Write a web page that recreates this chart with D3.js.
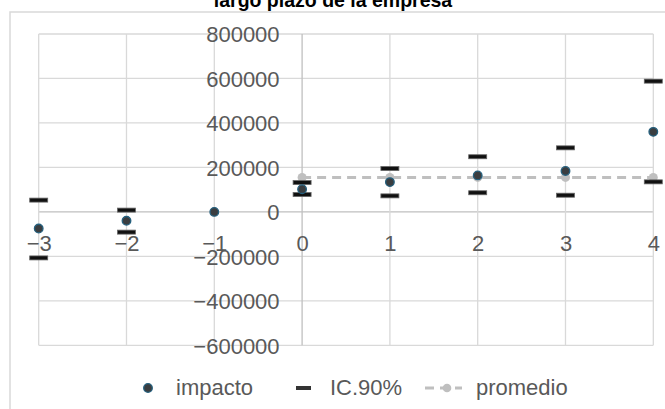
<!DOCTYPE html>
<html>
<head>
<meta charset="utf-8">
<script src="https://cdn.jsdelivr.net/npm/d3@7"></script>
<style>
  html, body { margin: 0; padding: 0; background: #fff; }
  svg { display: block; }
</style>
</head>
<body>
<svg id="chart" width="665" height="409"></svg>
<script>
// Event-study style data: relative period vs. estimated impact
const periods   = [-3, -2, -1, 0, 1, 2, 3, 4];
const impacto   = [-75000, -40000, 0, 102000, 134000, 164000, 184000, 360000];
const ciUpper   = [53000, 8000, null, 132000, 195000, 248000, 288000, 588000];
const ciLower   = [-207000, -91000, null, 78000, 72000, 86000, 75000, 135000];
const promedio  = [null, null, null, 155000, 155000, 155000, 155000, 155000];
const yTicks    = [-600000, -400000, -200000, 0, 200000, 400000, 600000, 800000];
const titleText = "largo plazo de la empresa";
const legendLabels = ["impacto", "IC.90%", "promedio"];

const svg = d3.select("#chart");
const font = "'Liberation Sans', Arial, sans-serif";
const textCol = "#595959";
const gridCol = "#d9d9d9";
const axisCol = "#bfbfbf";

const plot = { left: 38.7, right: 653.3, top: 34, bottom: 345.3 };

const x = d3.scaleLinear().domain([-3, 4]).range([plot.left, plot.right]);
const y = d3.scaleLinear().domain([-600000, 800000]).range([plot.bottom, plot.top]);

// Chart area border (left and top edges visible)
svg.append("path")
  .attr("d", "M10,409 L10,12 L665,12")
  .attr("fill", "none").attr("stroke", gridCol).attr("stroke-width", 1.5);

// Title (second line of a wrapped title)
svg.append("text")
  .attr("x", 333).attr("y", 7)
  .attr("text-anchor", "middle")
  .attr("font-family", font).attr("font-weight", "bold")
  .attr("font-size", 19.5).attr("fill", "#000")
  .text(titleText);

// Gridlines
const g = svg.append("g");
g.selectAll("line.hgrid").data(yTicks).join("line")
  .attr("class", "hgrid")
  .attr("x1", plot.left).attr("x2", plot.right)
  .attr("y1", d => y(d)).attr("y2", d => y(d))
  .attr("stroke", d => d === 0 ? axisCol : gridCol).attr("stroke-width", 1.3);
g.selectAll("line.vgrid").data(periods).join("line")
  .attr("class", "vgrid")
  .attr("x1", d => x(d)).attr("x2", d => x(d))
  .attr("y1", plot.top).attr("y2", plot.bottom)
  .attr("stroke", d => d === 0 ? axisCol : gridCol).attr("stroke-width", 1.3);

// Y axis labels (axis crosses at period 0)
const yAxis = d3.axisLeft(y).tickValues(yTicks).tickSize(0).tickPadding(0)
  .tickFormat(d3.format("d"));
const yg = svg.append("g").attr("transform", `translate(${x(0) - 22.5},0)`).call(yAxis);
yg.select(".domain").remove();
yg.selectAll("text")
  .attr("font-family", font).attr("font-size", 22).attr("fill", textCol)
  .attr("dy", "0.35em");

// X axis labels (along the zero line)
const xAxis = d3.axisBottom(x).tickValues(periods).tickSize(0).tickPadding(0)
  .tickFormat(d3.format("d"));
const xg = svg.append("g").attr("transform", `translate(0,${y(0)})`).call(xAxis);
xg.select(".domain").remove();
xg.selectAll("text")
  .attr("font-family", font).attr("font-size", 22).attr("fill", textCol)
  .attr("dy", null).attr("y", 39);

// promedio: dashed line with markers
const promData = periods.map((p, i) => ({ p, v: promedio[i] })).filter(d => d.v !== null);
svg.append("path")
  .datum(promData)
  .attr("d", d3.line().x(d => x(d.p)).y(d => y(d.v)))
  .attr("fill", "none").attr("stroke", "#bfbfbf")
  .attr("stroke-width", 3).attr("stroke-dasharray", "9,6");
svg.selectAll("circle.prom").data(promData).join("circle")
  .attr("class", "prom")
  .attr("cx", d => x(d.p)).attr("cy", d => y(d.v)).attr("r", 4.5)
  .attr("fill", "#bfbfbf");

// IC.90%: dash markers at upper and lower bounds
const ciData = [];
periods.forEach((p, i) => {
  if (ciUpper[i] !== null) ciData.push({ p, v: ciUpper[i] });
  if (ciLower[i] !== null) ciData.push({ p, v: ciLower[i] });
});
svg.selectAll("rect.ci").data(ciData).join("rect")
  .attr("class", "ci")
  .attr("x", d => x(d.p) - 9).attr("y", d => y(d.v) - 2)
  .attr("width", 18).attr("height", 4)
  .attr("fill", "#111").attr("stroke", "#666").attr("stroke-width", 0.8);

// impacto: point estimates
svg.selectAll("circle.imp").data(periods.map((p, i) => ({ p, v: impacto[i] }))).join("circle")
  .attr("class", "imp")
  .attr("cx", d => x(d.p)).attr("cy", d => y(d.v)).attr("r", 4.3)
  .attr("fill", "#3a3d40").attr("stroke", "#25607e").attr("stroke-width", 1.3);

// Legend
const ly = 388;
const leg = svg.append("g");
leg.append("circle").attr("cx", 148).attr("cy", ly).attr("r", 4.3)
  .attr("fill", "#3a3d40").attr("stroke", "#25607e").attr("stroke-width", 1.3);
leg.append("rect").attr("x", 296).attr("y", ly - 2).attr("width", 15).attr("height", 4)
  .attr("fill", "#333");
leg.append("line").attr("x1", 425).attr("x2", 462).attr("y1", ly).attr("y2", ly)
  .attr("stroke", "#bfbfbf").attr("stroke-width", 3).attr("stroke-dasharray", "9,6");
leg.append("circle").attr("cx", 447).attr("cy", ly).attr("r", 4.3).attr("fill", "#bfbfbf");
const lx = [176, 330, 476];
leg.selectAll("text").data(legendLabels).join("text")
  .attr("x", (d, i) => lx[i]).attr("y", ly + 7)
  .attr("font-family", font).attr("font-size", 22).attr("fill", textCol)
  .text(d => d);
</script>
</body>
</html>
